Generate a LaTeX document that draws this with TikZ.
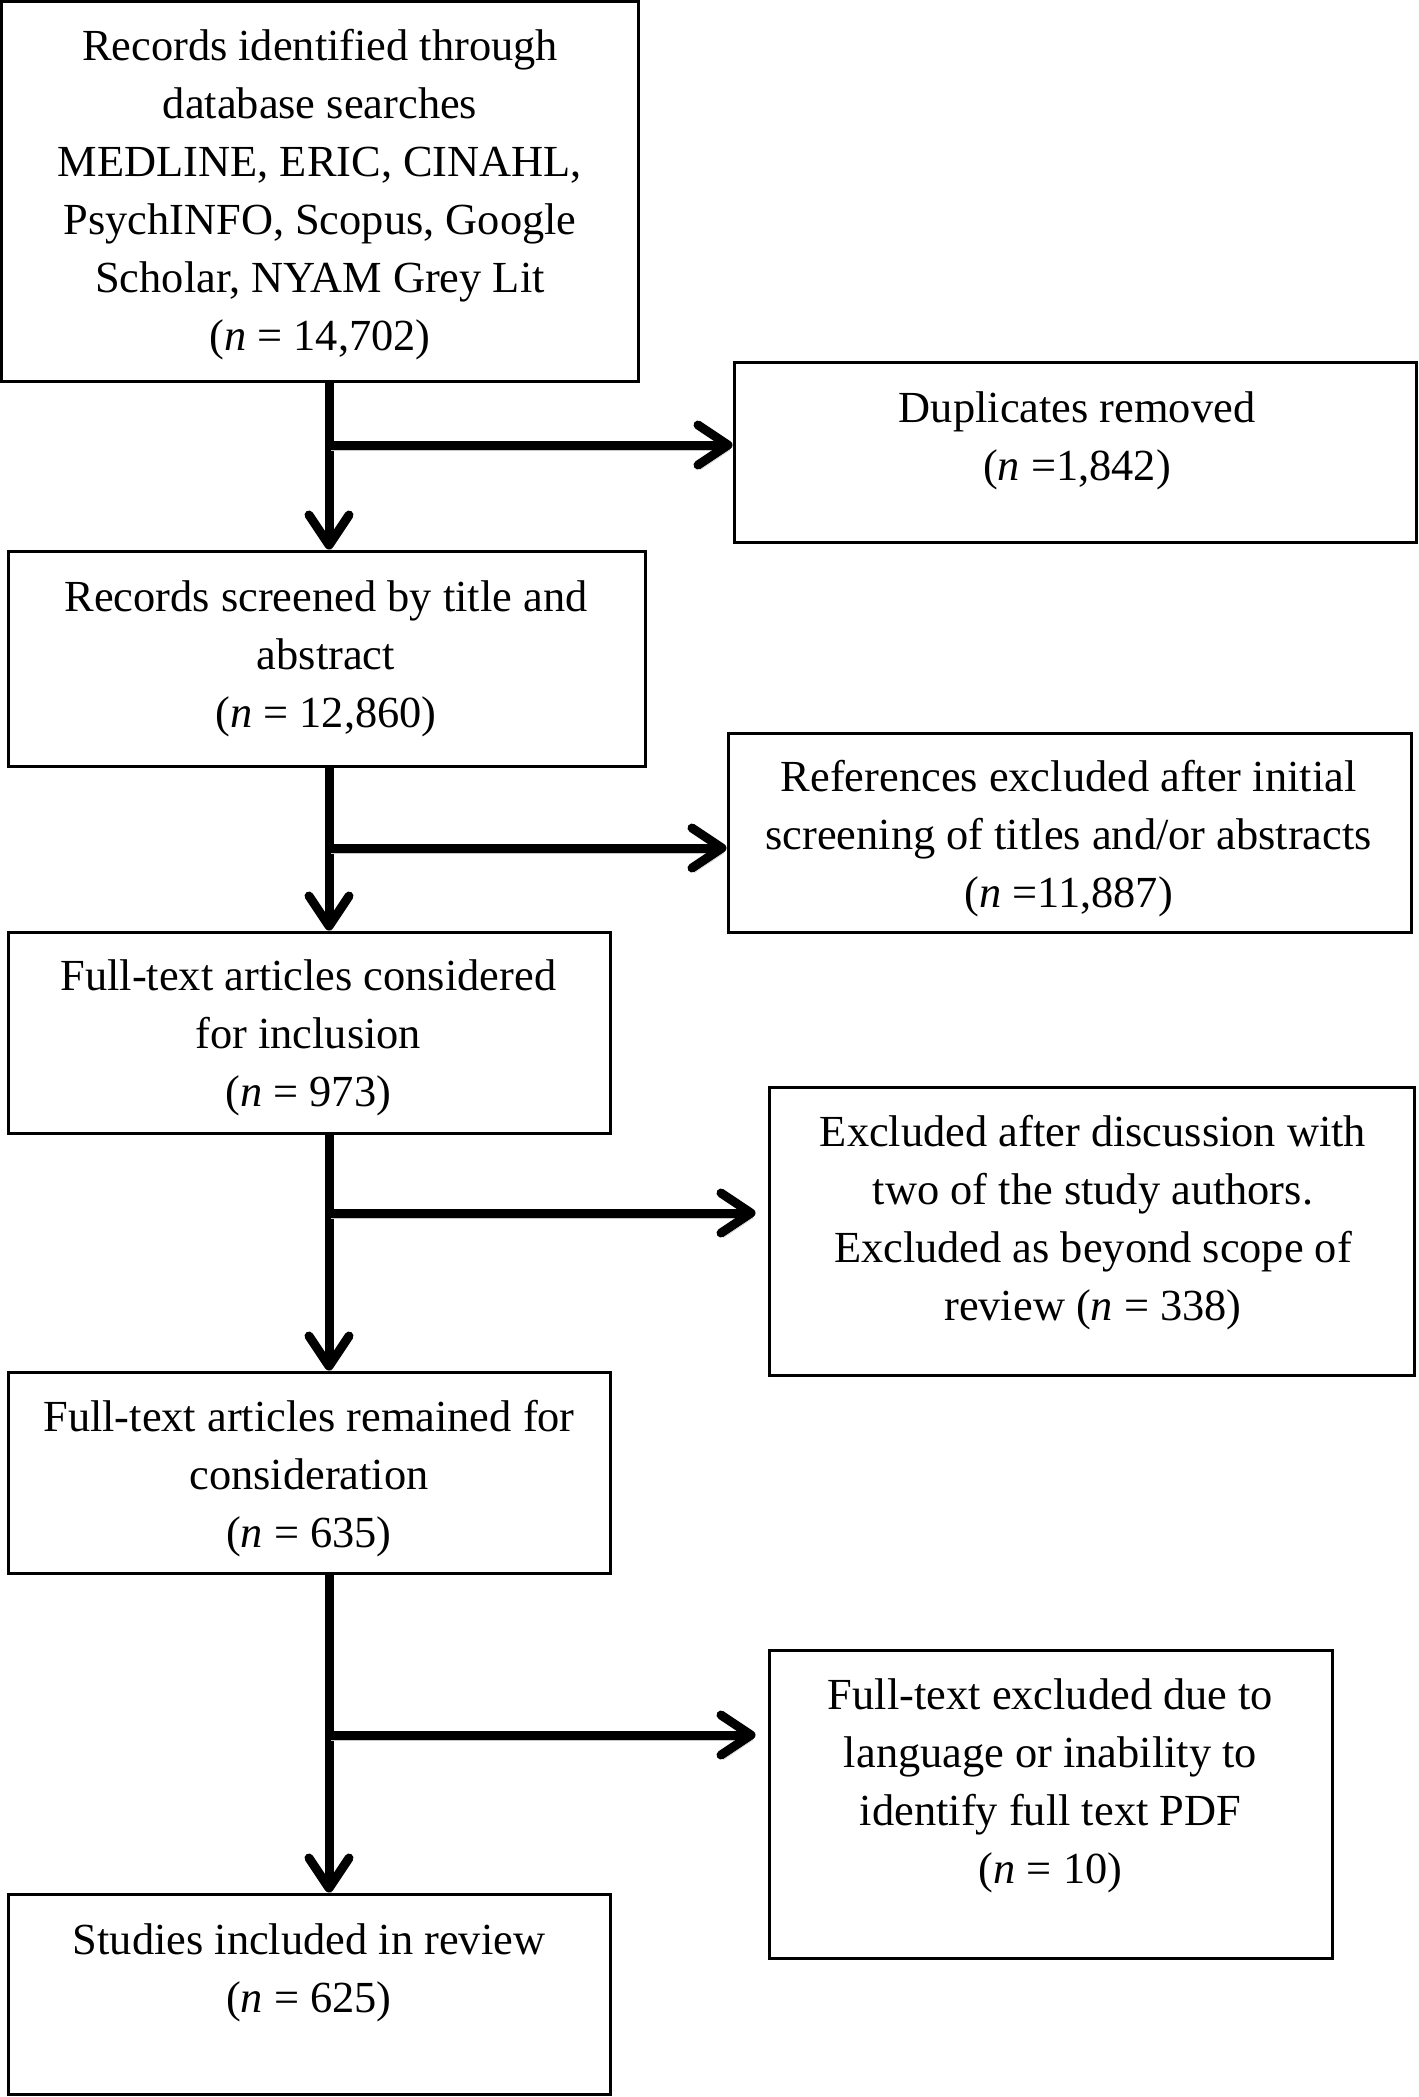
\documentclass[tikz,border=0pt]{standalone}
\usepackage{fontspec}
\setmainfont{Liberation Serif}
\usetikzlibrary{arrows.meta}
\begin{document}
\begin{tikzpicture}[x=1pt,y=-1pt,
  box/.style={draw, line width=3pt, inner sep=0pt},
  txt/.style={align=center, inner sep=0pt, font=\fontsize{44.4}{58}\selectfont},
  flow/.style={line width=9pt, -{Straight Barb[length=30pt,width=40pt,round]},
    preaction={draw=black!22, transform canvas={shift={(2pt,-5pt)}}}}]
\useasboundingbox (0,0) rectangle (1419,2097);
% boxes
\node[box, minimum width=636.5pt, minimum height=379.5pt] (b1) at (319.75,191.25) {};
\node[box, minimum width=682pt, minimum height=180pt] (dup) at (1075,452) {};
\node[box, minimum width=637pt, minimum height=215pt] (b2) at (326.5,658.5) {};
\node[box, minimum width=683pt, minimum height=199pt] (ref) at (1069.5,832.5) {};
\node[box, minimum width=602pt, minimum height=201pt] (b3) at (309,1032.5) {};
\node[box, minimum width=645pt, minimum height=288pt] (excl) at (1091.5,1231) {};
\node[box, minimum width=602pt, minimum height=201pt] (b4) at (309,1472.5) {};
\node[box, minimum width=563pt, minimum height=308pt] (fte) at (1050.5,1804) {};
\node[box, minimum width=602pt, minimum height=200pt] (b5) at (309,1994) {};
% texts
\node[txt] (t1) at (320,194) {\strut Records identified through\\ \strut database searches\\ \strut MEDLINE, ERIC, CINAHL,\\ \strut PsychINFO, Scopus, Google\\ \strut Scholar, NYAM Grey Lit\\ \strut (\textit{n} = 14,702)};
\node[txt] (t2) at (1077,440) {\strut Duplicates removed\\ \strut (\textit{n} =1,842)};
\node[txt] (t3) at (326,658) {\strut Records screened by title and\\ \strut abstract\\ \strut (\textit{n} = 12,860)};
\node[txt] (t4) at (1068.6,837.5) {\strut References excluded after initial\\ \strut screening of titles and/or abstracts\\ \strut (\textit{n} =11,887)};
\node[txt] (t5) at (308.3,1037) {\strut Full-text articles considered\\ \strut for inclusion\\ \strut (\textit{n} = 973)};
\node[txt] (t6) at (1093,1222) {\strut Excluded after discussion with\\ \strut two of the study authors.\\ \strut Excluded as beyond scope of\\ \strut review (\textit{n} = 338)};
\node[txt] (t7) at (309,1478) {\strut Full-text articles remained for\\ \strut consideration\\ \strut (\textit{n} = 635)};
\node[txt] (t8) at (1050.5,1785) {\strut Full-text excluded due to\\ \strut language or inability to\\ \strut identify full text PDF\\ \strut (\textit{n} = 10)};
\node[txt] (t9) at (309,1972) {\strut Studies included in review\\ \strut (\textit{n} = 625)};
% spine and branch points
\coordinate (spine) at (329,0);
\coordinate (j1) at (329,445);
\coordinate (j2) at (329,848);
\coordinate (j3) at (329,1213);
\coordinate (j4) at (329,1735);
% vertical flow
\draw[flow] (b1.south -| spine) -- (b2.north -| spine);
\draw[flow] (b2.south -| spine) -- (b3.north -| spine);
\draw[flow] (b3.south -| spine) -- (b4.north -| spine);
\draw[flow] (b4.south -| spine) -- (b5.north -| spine);
% side branches
\draw[flow] (j1) -- (j1 -| dup.west);
\draw[flow] (j2) -- (j2 -| ref.west);
\draw[flow, shorten >=12pt] (j3) -- (j3 -| excl.west);
\draw[flow, shorten >=12pt] (j4) -- (j4 -| fte.west);
\end{tikzpicture}
\end{document}
